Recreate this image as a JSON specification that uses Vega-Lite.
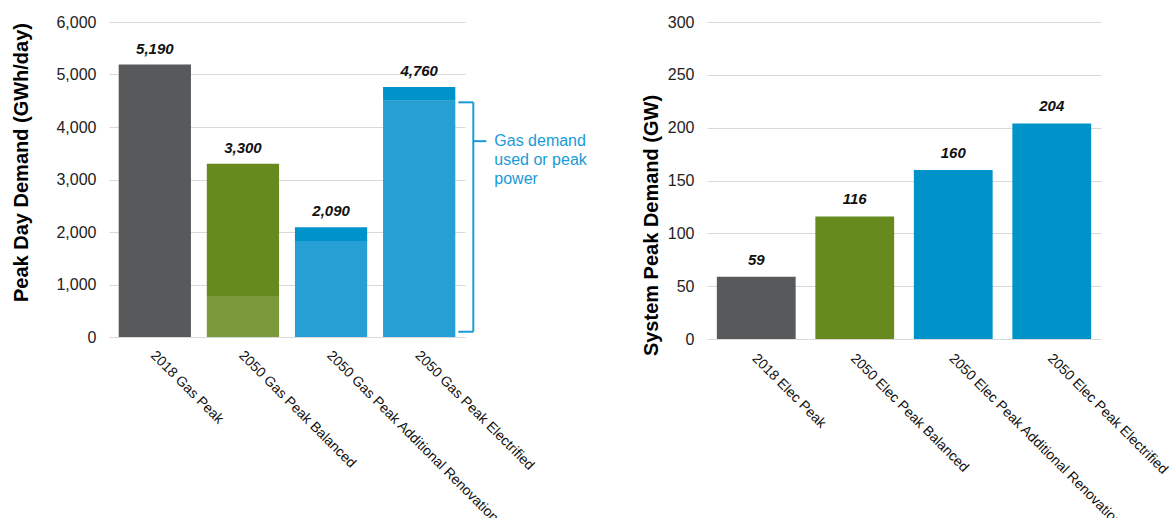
{
  "$schema": "https://vega.github.io/schema/vega-lite/v6.json",
  "background": "white",
  "padding": {"left": 10, "top": 14, "right": 0, "bottom": 0},
  "bounds": "flush",
  "spacing": 242,
  "config": {
    "font": "Liberation Sans",
    "view": {"stroke": null},
    "axis": {"labelFont": "Liberation Sans", "titleFont": "Liberation Sans"}
  },
  "datasets": {
    "gasSegments": [
      {"scenario": "2018 Gas Peak", "type": "2018", "start": 0, "end": 5190},
      {"scenario": "2050 Gas Peak Balanced", "type": "Balanced (power)", "start": 0, "end": 780},
      {"scenario": "2050 Gas Peak Balanced", "type": "Balanced", "start": 780, "end": 3300},
      {"scenario": "2050 Gas Peak Additional Renovation", "type": "Electrified (power)", "start": 0, "end": 1830},
      {"scenario": "2050 Gas Peak Additional Renovation", "type": "Electrified", "start": 1830, "end": 2090},
      {"scenario": "2050 Gas Peak Electrified", "type": "Electrified (power)", "start": 0, "end": 4500},
      {"scenario": "2050 Gas Peak Electrified", "type": "Electrified", "start": 4500, "end": 4760}
    ],
    "gasTotals": [
      {"scenario": "2018 Gas Peak", "total": 5190},
      {"scenario": "2050 Gas Peak Balanced", "total": 3300},
      {"scenario": "2050 Gas Peak Additional Renovation", "total": 2090},
      {"scenario": "2050 Gas Peak Electrified", "total": 4760}
    ],
    "bracketSpine": [
      {"scenario": "2050 Gas Peak Electrified", "lo": 100, "hi": 4470}
    ],
    "bracketArms": [
      {"scenario": "2050 Gas Peak Electrified", "level": 4470},
      {"scenario": "2050 Gas Peak Electrified", "level": 100}
    ],
    "bracketNotch": [
      {"scenario": "2050 Gas Peak Electrified", "level": 3730, "note": "Gas demand\nused or peak\npower"}
    ],
    "elec": [
      {"scenario": "2018 Elec Peak", "type": "2018", "peak": 59},
      {"scenario": "2050 Elec Peak Balanced", "type": "Balanced", "peak": 116},
      {"scenario": "2050 Elec Peak Additional Renovation", "type": "Electrified", "peak": 160},
      {"scenario": "2050 Elec Peak Electrified", "type": "Electrified", "peak": 204}
    ]
  },
  "hconcat": [
    {
      "width": 356,
      "height": 315,
      "layer": [
        {
          "data": {"name": "gasSegments"},
          "mark": {"type": "bar"},
          "encoding": {
            "x": {
              "field": "scenario", "type": "nominal",
              "scale": {"domain": ["2018 Gas Peak", "2050 Gas Peak Balanced", "2050 Gas Peak Additional Renovation", "2050 Gas Peak Electrified"], "paddingInner": 0.18, "paddingOuter": 0.11},
              "axis": {"title": null, "labelAngle": 45, "labelAlign": "left", "labelBaseline": "top", "labelFontSize": 14, "labelColor": "#111111", "labelPadding": 11, "labelOffset": 3, "domain": false, "ticks": false, "labelLimit": 400}
            },
            "y": {
              "field": "start", "type": "quantitative",
              "scale": {"domain": [0, 6000], "nice": false},
              "axis": {"title": "Peak Day Demand (GWh/day)", "titleFontSize": 20, "titleFontWeight": "bold", "titleColor": "#000000", "titleX": -78, "titleY": 140, "labelFontSize": 16, "labelColor": "#222222", "labelPadding": 13, "domain": false, "ticks": false, "gridColor": "#d9d9d9", "values": [0, 1000, 2000, 3000, 4000, 5000, 6000], "format": ",.0f"}
            },
            "y2": {"field": "end"},
            "color": {
              "field": "type", "type": "nominal", "legend": null,
              "scale": {"domain": ["2018", "Balanced", "Balanced (power)", "Electrified", "Electrified (power)"], "range": ["#58595b", "#678a1f", "#7a9a3c", "#0093c9", "#259fd4"]}
            }
          }
        },
        {
          "data": {"name": "gasTotals"},
          "mark": {"type": "text", "fontStyle": "italic", "fontWeight": "bold", "fontSize": 15, "baseline": "bottom", "dy": -8, "color": "#111111"},
          "encoding": {
            "x": {"field": "scenario", "type": "nominal"},
            "y": {"field": "total", "type": "quantitative"},
            "text": {"field": "total", "type": "quantitative", "format": ",.0f"}
          }
        },
        {
          "data": {"name": "bracketSpine"},
          "mark": {"type": "rule", "color": "#1a9ad6", "strokeWidth": 2, "xOffset": 18},
          "encoding": {
            "x": {"field": "scenario", "type": "nominal", "bandPosition": 1},
            "y": {"field": "lo", "type": "quantitative"},
            "y2": {"field": "hi"}
          }
        },
        {
          "data": {"name": "bracketArms"},
          "mark": {"type": "rule", "color": "#1a9ad6", "strokeWidth": 2, "xOffset": 3, "x2Offset": 18},
          "encoding": {
            "x": {"field": "scenario", "type": "nominal", "bandPosition": 1},
            "x2": {"field": "scenario", "bandPosition": 1},
            "y": {"field": "level", "type": "quantitative"}
          }
        },
        {
          "data": {"name": "bracketNotch"},
          "mark": {"type": "rule", "color": "#1a9ad6", "strokeWidth": 2, "xOffset": 18, "x2Offset": 31},
          "encoding": {
            "x": {"field": "scenario", "type": "nominal", "bandPosition": 1},
            "x2": {"field": "scenario", "bandPosition": 1},
            "y": {"field": "level", "type": "quantitative"}
          }
        },
        {
          "data": {"name": "bracketNotch"},
          "mark": {"type": "text", "align": "left", "baseline": "middle", "lineBreak": "\n", "lineHeight": 19, "fontSize": 16, "color": "#1a9ad6", "xOffset": 39},
          "encoding": {
            "x": {"field": "scenario", "type": "nominal", "bandPosition": 1},
            "y": {"field": "level", "type": "quantitative"},
            "text": {"field": "note"}
          }
        }
      ]
    },
    {
      "width": 394,
      "height": 317,
      "data": {"name": "elec"},
      "layer": [
        {
          "mark": {"type": "bar"},
          "encoding": {
            "x": {
              "field": "scenario", "type": "nominal", "sort": null,
              "scale": {"paddingInner": 0.2, "paddingOuter": 0.1},
              "axis": {"title": null, "labelAngle": 45, "labelAlign": "left", "labelBaseline": "top", "labelFontSize": 14, "labelColor": "#111111", "labelPadding": 12, "labelOffset": 3, "domain": false, "ticks": false, "labelLimit": 400}
            },
            "y": {
              "field": "peak", "type": "quantitative",
              "scale": {"domain": [0, 300], "nice": false},
              "axis": {"title": "System Peak Demand (GW)", "titleFontSize": 20, "titleFontWeight": "bold", "titleColor": "#000000", "titleX": -46, "titleY": 203, "labelFontSize": 16, "labelColor": "#222222", "labelPadding": 13, "domain": false, "ticks": false, "gridColor": "#d9d9d9", "values": [0, 50, 100, 150, 200, 250, 300], "format": ".0f"}
            },
            "color": {
              "field": "type", "type": "nominal", "legend": null,
              "scale": {"domain": ["2018", "Balanced", "Electrified"], "range": ["#58595b", "#678a1f", "#0093c9"]}
            }
          }
        },
        {
          "mark": {"type": "text", "fontStyle": "italic", "fontWeight": "bold", "fontSize": 15, "baseline": "bottom", "dy": -9, "color": "#111111"},
          "encoding": {
            "x": {"field": "scenario", "type": "nominal", "sort": null},
            "y": {"field": "peak", "type": "quantitative"},
            "text": {"field": "peak", "type": "quantitative"}
          }
        }
      ]
    }
  ],
  "resolve": {"scale": {"color": "independent"}}
}
